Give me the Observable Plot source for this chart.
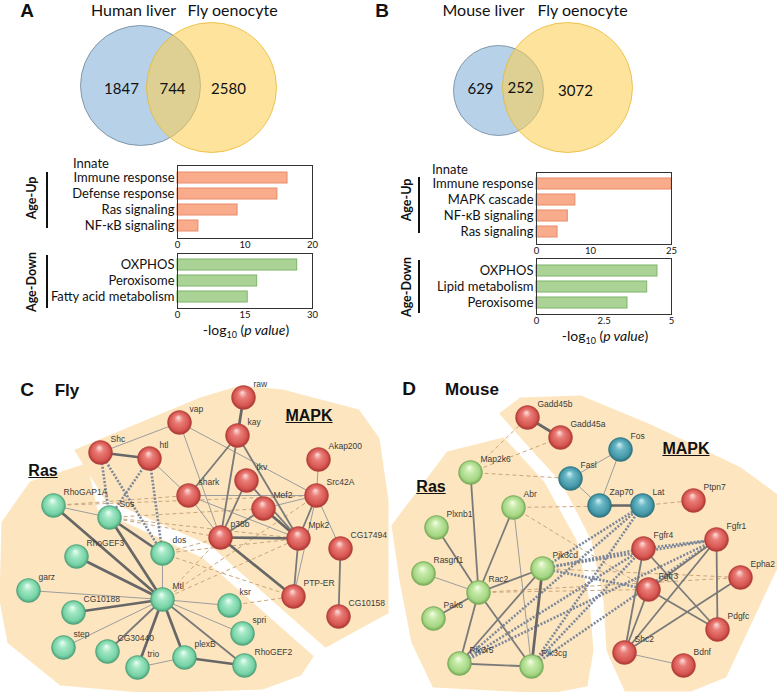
<!DOCTYPE html>
<html><head><meta charset="utf-8">
<script src="https://cdn.jsdelivr.net/npm/d3@7"></script>
<script src="https://cdn.jsdelivr.net/npm/@observablehq/plot@0.6"></script>
<style>
body{margin:0;background:#fff;}
#fig{position:relative;width:777px;height:692px;overflow:hidden;font-family:Lato,"Open Sans",sans-serif;color:#111;}
.abs{position:absolute;line-height:1;white-space:nowrap;}
.ctr{transform:translate(-50%,-50%);}
.letter{font-family:"Liberation Sans",Arial,sans-serif;font-weight:bold;font-size:19px;}
.sp{font-family:"Liberation Sans",Arial,sans-serif;font-weight:bold;font-size:17px;}
.grp{font-family:"Liberation Sans",Arial,sans-serif;font-weight:bold;font-size:16px;text-decoration:underline;}
.age{font-family:Lato,sans-serif;font-weight:bold;font-size:12.5px;}
.axl{font-family:Lato,sans-serif;font-size:14px;}
.inn{font-family:Lato,sans-serif;font-size:13px;}
.vline{position:absolute;width:1.5px;background:#111;}
svg{overflow:visible;}
</style></head>
<body>
<svg width="0" height="0" style="position:absolute">
<defs>
<radialGradient id="gRed" cx="50%" cy="50%" r="50%" fx="45%" fy="28%">
<stop offset="0%" stop-color="#fde2de"/><stop offset="35%" stop-color="#ea7d78"/><stop offset="80%" stop-color="#d65550"/><stop offset="100%" stop-color="#a83431"/></radialGradient>
<radialGradient id="gMint" cx="50%" cy="50%" r="50%" fx="45%" fy="28%">
<stop offset="0%" stop-color="#effff6"/><stop offset="35%" stop-color="#a3e8c6"/><stop offset="80%" stop-color="#76d2a5"/><stop offset="100%" stop-color="#4a9f78"/></radialGradient>
<radialGradient id="gLime" cx="50%" cy="50%" r="50%" fx="45%" fy="28%">
<stop offset="0%" stop-color="#f6ffe8"/><stop offset="35%" stop-color="#c6eaa8"/><stop offset="80%" stop-color="#a4d683"/><stop offset="100%" stop-color="#73a853"/></radialGradient>
<radialGradient id="gTeal" cx="50%" cy="50%" r="50%" fx="45%" fy="28%">
<stop offset="0%" stop-color="#d2f1f5"/><stop offset="35%" stop-color="#6bb8c6"/><stop offset="80%" stop-color="#4598a8"/><stop offset="100%" stop-color="#2a6d7a"/></radialGradient>
</defs></svg>
<div id="fig"></div>
<script>
// ---------------- DATA ----------------
// Venn diagrams
const vennA_sets = ["Human liver", "Fly oenocyte"];
const vennA_counts = [1847, 744, 2580];
const vennB_sets = ["Mouse liver", "Fly oenocyte"];
const vennB_counts = [629, 252, 3072];
// Venn geometry (layout units)
const vennA_cx = [140, 211], vennA_cy = [85, 87], vennA_r = [60, 65];
const vennB_cx = [498, 567], vennB_cy = [90, 87], vennB_r = [45, 65];
const vennA_countX = [121, 172, 228], vennA_countY = [89, 89, 89];
const vennB_countX = [480, 520, 575], vennB_countY = [89, 88, 91];
const vennA_titleX = [133, 232], vennB_titleX = [483, 582], vennTitleY = 10;

// Enrichment bars
const aUpTerms = ["Immune response", "Defense response", "Ras signaling", "NF-κB signaling"];
const aUpValues = [16.3, 14.8, 8.9, 3.1];
const aUpTicks = [0, 10, 20];
const aDownTerms = ["OXPHOS", "Peroxisome", "Fatty acid metabolism"];
const aDownValues = [26.6, 17.7, 15.6];
const aDownTicks = [0, 15, 30];
const bUpTerms = ["Immune response", "MAPK cascade", "NF-κB signaling", "Ras signaling"];
const bUpValues = [25, 7.2, 5.8, 3.9];
const bUpTicks = [0, 10, 25];
const bDownTerms = ["OXPHOS", "Lipid metabolism", "Peroxisome"];
const bDownValues = [4.48, 4.1, 3.37];
const bDownTicks = [0, 2.5, 5];

// Networks: node name, layout x, layout y, group
const flyNodes = [
  ["raw",243,397,"mapk"],["vap",179,422,"mapk"],["kay",237,435,"mapk"],["Shc",100,452,"mapk"],
  ["htl",149,458,"mapk"],["Akap200",318,459,"mapk"],["tkv",246,480,"mapk"],["shark",188,495,"mapk"],
  ["Src42A",316,495,"mapk"],["Mef2",263,508,"mapk"],["p38b",220,537,"mapk"],["Mpk2",298,538,"mapk"],
  ["CG17494",340,548,"mapk"],["PTP-ER",293,596,"mapk"],["CG10158",338,616,"mapk"],
  ["RhoGAP1A",53,505,"ras"],["Sos",109,517,"ras"],["RhoGEF3",76,556,"ras"],["dos",162,553,"ras"],
  ["garz",28,590,"ras"],["CG10188",73,612,"ras"],["Mtl",162,599,"ras"],["ksr",229,605,"ras"],
  ["spri",242,633,"ras"],["step",63,647,"ras"],["CG30440",107,651,"ras"],["trio",137,667,"ras"],
  ["plexB",184,657,"ras"],["RhoGEF2",244,665,"ras"]
];
// edges: source, target, evidence kind (w3 strong, w2 medium, w1 weak, db/dt cross-group)
const flyEdges = [
  ["raw","kay","w3"],["Shc","htl","w3"],["Mef2","Mpk2","w3"],["p38b","Mpk2","w3"],["p38b","PTP-ER","w3"],
  ["RhoGAP1A","Mtl","w3"],["Sos","Mtl","w3"],["Sos","dos","w3"],["RhoGEF3","Mtl","w3"],["CG10188","Mtl","w3"],
  ["trio","Mtl","w3"],["plexB","Mtl","w3"],["plexB","RhoGEF2","w3"],
  ["kay","shark","w2"],["kay","p38b","w2"],["kay","Mpk2","w2"],["tkv","p38b","w2"],["tkv","Mpk2","w2"],
  ["Mef2","p38b","w2"],["Mpk2","PTP-ER","w2"],["Src42A","Mpk2","w2"],["CG17494","CG10158","w2"],
  ["CG30440","Mtl","w2"],["RhoGEF2","Mtl","w2"],
  ["vap","Shc","w1"],["vap","Src42A","w1"],["vap","p38b","w1"],["htl","shark","w1"],["shark","Src42A","w1"],
  ["shark","p38b","w1"],["shark","Mpk2","w1"],["Mef2","Src42A","w1"],["Src42A","PTP-ER","w1"],
  ["Src42A","Akap200","w1"],["Src42A","CG17494","w1"],["RhoGAP1A","Sos","w1"],["dos","Mtl","w1"],
  ["garz","Mtl","w1"],["step","Mtl","w1"],["trio","plexB","w1"],["ksr","Mtl","w1"],["spri","Mtl","w1"],
  ["Shc","Sos","db"],["Shc","dos","db"],["htl","Sos","db"],["htl","dos","db"],
  ["RhoGAP1A","shark","dt"],["RhoGAP1A","Src42A","dt"],["Sos","p38b","dt"],["Sos","Mpk2","dt"],
  ["Sos","Mef2","dt"],["dos","p38b","dt"],["dos","Mpk2","dt"],["dos","PTP-ER","dt"],["Mtl","p38b","dt"],
  ["Mtl","Mpk2","dt"],["Mtl","Src42A","dt"],["ksr","PTP-ER","dt"]
];
const mouseNodes = [
  ["Gadd45b",527,417,"mapk"],["Gadd45a",560,437,"mapk"],["Fos",620,449,"tcr"],["Map2k6",470,472,"ras"],
  ["Fasl",570,478,"tcr"],["Ptpn7",693,500,"mapk"],["Zap70",599,505,"tcr"],["Lat",642,505,"tcr"],
  ["Abr",513,507,"ras"],["Plxnb1",436,527,"ras"],["Fgfr4",643,548,"mapk"],["Fgfr1",716,539,"mapk"],
  ["Rasgrf1",423,573,"ras"],["Pik3cd",542,568,"ras"],["Epha2",740,577,"mapk"],["Rac2",478,592,"ras"],
  ["Fgfr3",648,589,"mapk"],["Pak6",433,618,"ras"],["Pdgfc",717,629,"mapk"],["Shc2",624,652,"mapk"],
  ["Pik3r5",459,663,"ras"],["Pik3cg",531,666,"ras"],["Bdnf",683,665,"mapk"]
];
const mouseEdges = [
  ["Gadd45b","Gadd45a","w3"],["Zap70","Lat","w3"],["Pik3cd","Pik3cg","w3"],
  ["Map2k6","Rac2","w2"],["Abr","Rac2","w2"],["Plxnb1","Rac2","w2"],["Pak6","Rac2","w2"],["Rac2","Pik3cd","w2"],
  ["Rac2","Pik3r5","w2"],["Rac2","Pik3cg","w2"],["Pik3cd","Pik3r5","w2"],["Pik3r5","Pik3cg","w2"],
  ["Fgfr4","Shc2","w2"],["Fgfr4","Pdgfc","w2"],["Fgfr1","Shc2","w2"],["Fgfr1","Fgfr3","w2"],["Fgfr1","Pdgfc","w2"],
  ["Fgfr3","Shc2","w2"],["Fgfr3","Pdgfc","w2"],["Epha2","Shc2","w2"],
  ["Fos","Fasl","w1"],["Fos","Zap70","w1"],["Fasl","Zap70","w1"],["Abr","Pik3cg","w1"],["Rasgrf1","Rac2","w1"],
  ["Shc2","Bdnf","w1"],
  ["Map2k6","Gadd45b","dt"],["Map2k6","Gadd45a","dt"],["Map2k6","Fasl","dt"],["Abr","Lat","dt"],["Lat","Ptpn7","dt"],
  ["Rac2","Epha2","dt"],["Pik3cd","Epha2","dt"],["Abr","Fgfr3","dt"],["Rac2","Fgfr3","dt"],
  ["Pik3cd","Lat","db"],["Pik3cd","Fgfr4","db"],["Pik3cd","Fgfr1","db"],["Pik3cd","Fgfr3","db"],["Pik3cg","Lat","db"],
  ["Pik3cg","Fgfr1","db"],["Pik3cg","Fgfr4","db"],["Pik3r5","Fgfr4","db"],["Pik3r5","Fgfr1","db"],["Pik3r5","Lat","db"],
  ["Fgfr4","Fgfr1","db"]
];
// cluster hull outlines (layout units)
const flyHullMapk = [[75,450],[200,398],[240,386],[282,390],[358,410],[378,438],[387,500],[387,612],[325,646],[210,544],[105,498]];
const flyHullRas = [[2,522],[30,482],[86,464],[96,510],[201,558],[312,656],[300,674],[262,688],[150,692],[60,684],[8,642],[0,600]];
const mouseHullRas = [[392,525],[447,452],[503,438],[543,482],[575,540],[588,600],[592,650],[586,685],[550,692],[433,686],[412,642],[400,580]];
const mouseHullMapk = [[500,413],[520,398],[580,396],[650,425],[740,468],[777,495],[777,565],[725,676],[690,690],[625,690],[607,650],[604,600],[592,540],[562,482],[522,438]];

// ---------------- RENDER ----------------
const fig = document.getElementById("fig");
function place(el, left, top) { el.style.position = "absolute"; el.style.left = left + "px"; el.style.top = top + "px"; fig.appendChild(el); return el; }
function label(html, x, y, cls, center = true) {
  const d = document.createElement("div");
  d.className = "abs " + cls + (center ? " ctr" : "");
  d.innerHTML = html;
  d.style.left = x + "px"; d.style.top = y + "px";
  if (!center) d.style.transform = "translate(0,-50%)";
  fig.appendChild(d); return d;
}

// Venn plot
const vennCircles = [
  {set: vennA_sets[0], cx: vennA_cx[0], cy: vennA_cy[0], r: vennA_r[0], k: "blue"},
  {set: vennA_sets[1], cx: vennA_cx[1], cy: vennA_cy[1], r: vennA_r[1], k: "yellow"},
  {set: vennB_sets[0], cx: vennB_cx[0], cy: vennB_cy[0], r: vennB_r[0], k: "blue"},
  {set: vennB_sets[1], cx: vennB_cx[1], cy: vennB_cy[1], r: vennB_r[1], k: "yellow"}
];
const vennCounts = vennA_counts.map((c, i) => ({c, x: vennA_countX[i], y: vennA_countY[i]}))
  .concat(vennB_counts.map((c, i) => ({c, x: vennB_countX[i], y: vennB_countY[i]})));
const vennTitles = vennA_sets.map((s, i) => ({s, x: vennA_titleX[i], y: vennTitleY}))
  .concat(vennB_sets.map((s, i) => ({s, x: vennB_titleX[i], y: vennTitleY})));
const vennPlot = Plot.plot({
  width: 777, height: 160, margin: 0,
  x: {domain: [0, 777], range: [0, 777], axis: null},
  y: {domain: [0, 160], range: [0, 160], axis: null},
  r: {type: "identity"},
  style: {fontFamily: "Lato, sans-serif", background: "transparent"},
  marks: [
    Plot.dot(vennCircles.filter(d => d.k === "blue"), {x: "cx", y: "cy", r: "r", fill: "#b6d1e8", stroke: "#6f8597", strokeWidth: 0.8}),
    Plot.dot(vennCircles.filter(d => d.k === "yellow"), {x: "cx", y: "cy", r: "r", fill: "#fbcf55", fillOpacity: 0.58, stroke: "#eab72e", strokeWidth: 0.8}),
    Plot.text(vennCounts, {x: "x", y: "y", text: d => String(d.c), fontSize: 15, fill: "#111"}),
    Plot.text(vennTitles, {x: "x", y: "y", text: "s", fontSize: 16, fill: "#111"})
  ]
});
place(vennPlot, 0, 0);

// bar charts
function barChart(terms, values, ticks, xmax, fill, stroke, o) {
  const data = terms.map((t, i) => ({term: t, value: values[i]}));
  return Plot.plot({
    width: o.width, height: o.height,
    marginLeft: o.ml, marginRight: o.mr, marginTop: o.mt, marginBottom: o.mb,
    style: {fontFamily: "Lato, sans-serif", fontSize: "13px", color: "#111", background: "transparent"},
    x: {domain: [0, xmax]},
    y: {domain: terms, padding: o.pad},
    marks: [
      Plot.barX(data, {x: "value", y: "term", fill, stroke, strokeWidth: 1}),
      Plot.frame({stroke: "#333", strokeWidth: 1}),
      Plot.axisY({tickSize: 0, tickPadding: 3, label: null, fontSize: 13}),
      Plot.axisX({ticks, tickSize: 0, tickPadding: 3, label: null, fontSize: 9.5, tickFormat: d => String(d)})
    ]
  });
}
const orange = "#f8ac8b", orangeS = "#e98b69", green = "#aad395", greenS = "#7db46a";
place(barChart(aUpTerms, aUpValues, aUpTicks, 20, orange, orangeS, {width: 330, height: 104, ml: 177, mr: 18, mt: 15, mb: 16, pad: 0.3}), 0, 150);
place(barChart(aDownTerms, aDownValues, aDownTicks, 30, green, greenS, {width: 330, height: 82, ml: 177, mr: 18, mt: 13, mb: 14, pad: 0.34}), 0, 240);
place(barChart(bUpTerms, bUpValues, bUpTicks, 25, orange, orangeS, {width: 299, height: 105, ml: 146, mr: 18, mt: 17, mb: 16, pad: 0.3}), 390, 155);
place(barChart(bDownTerms, bDownValues, bDownTicks, 5, green, greenS, {width: 299, height: 83, ml: 146, mr: 18, mt: 13, mb: 14, pad: 0.34}), 390, 245);

// network plots
function network(nodes, edges, hulls, o) {
  const N = nodes.map(([id, x, y, g]) => ({id, x, y, g}));
  const byId = new Map(N.map(d => [d.id, d]));
  const L = edges.map(([s, t, k]) => ({x1: byId.get(s).x, y1: byId.get(s).y, x2: byId.get(t).x, y2: byId.get(t).y, k}));
  const lk = k => L.filter(d => d.k === k);
  const lopts = {x1: "x1", y1: "y1", x2: "x2", y2: "y2"};
  return Plot.plot({
    width: o.width, height: o.height, margin: 0,
    x: {domain: o.xd, range: [0, o.width], axis: null},
    y: {domain: o.yd, range: [0, o.height], axis: null},
    style: {background: "transparent"},
    marks: [
      ...hulls.map(h => Plot.line(h, {x: d => d[0], y: d => d[1], curve: "linear-closed", fill: "#fde6bf", stroke: "#fde6bf", strokeWidth: 2, strokeLinejoin: "round"})),
      Plot.link(lk("dt"), {...lopts, stroke: "#caa57c", strokeWidth: 1, strokeDasharray: "4,3"}),
      Plot.link(lk("db"), {...lopts, stroke: "#7c879a", strokeWidth: 2.6, strokeDasharray: "2,1.6"}),
      Plot.link(lk("w1"), {...lopts, stroke: "#9c9c9c", strokeWidth: 1}),
      Plot.link(lk("w2"), {...lopts, stroke: "#7a7a7a", strokeWidth: 1.8}),
      Plot.link(lk("w3"), {...lopts, stroke: "#676767", strokeWidth: 2.7}),
      Plot.dot(N.filter(d => d.g === "mapk"), {x: "x", y: "y", r: 12, fill: "url(#gRed)", stroke: "#b54844", strokeWidth: 0.5}),
      Plot.dot(N.filter(d => d.g === "ras"), {x: "x", y: "y", r: 12, fill: o.rasFill, stroke: o.rasStroke, strokeWidth: 0.5}),
      Plot.dot(N.filter(d => d.g === "tcr"), {x: "x", y: "y", r: 12, fill: "url(#gTeal)", stroke: "#2f7684", strokeWidth: 0.5}),
      Plot.text(N, {x: "x", y: "y", text: "id", dx: 10, dy: -13, textAnchor: "start", fontSize: 8.5, fill: "#3a3a3a", fontFamily: "Liberation Sans, Arial, sans-serif"})
    ]
  });
}
place(network(flyNodes, flyEdges, [flyHullRas, flyHullMapk], {width: 390, height: 312, xd: [0, 390], yd: [380, 692], rasFill: "url(#gMint)", rasStroke: "#4f9f7a"}), 0, 380);
place(network(mouseNodes, mouseEdges, [mouseHullRas, mouseHullMapk], {width: 387, height: 312, xd: [390, 777], yd: [380, 692], rasFill: "url(#gLime)", rasStroke: "#7aa85c"}), 390, 380);

// annotations
label("A", 27, 10, "letter"); label("B", 382, 10, "letter");
label("C", 27, 389, "letter"); label("D", 409, 388, "letter");
label("Fly", 67, 390, "sp"); label("Mouse", 472, 389, "sp");
label("MAPK", 309, 416, "grp"); label("Ras", 43, 471, "grp");
label("MAPK", 686, 449, "grp"); label("Ras", 431, 487, "grp");
label("Innate", 73, 163, "inn", false); label("Innate", 432, 169, "inn", false);
label("-log<sub style='font-size:9px'>10</sub> (<i>p value</i>)", 246, 331, "axl");
label("-log<sub style='font-size:9px'>10</sub> (<i>p value</i>)", 605, 337, "axl");
const ageLabels = [["Age-Up", 32, 198], ["Age-Down", 32, 282], ["Age-Up", 407, 200], ["Age-Down", 407, 287]];
ageLabels.forEach(([t, x, y]) => { const d = label(t, x, y, "age"); d.style.transform = "translate(-50%,-50%) rotate(-90deg)"; });
const ageLines = [[46, 172, 228], [46, 255, 308], [418, 177, 233], [418, 260, 313]];
ageLines.forEach(([x, y1, y2]) => { const d = document.createElement("div"); d.className = "vline"; d.style.left = x + "px"; d.style.top = y1 + "px"; d.style.height = (y2 - y1) + "px"; fig.appendChild(d); });
</script>
</body></html>
